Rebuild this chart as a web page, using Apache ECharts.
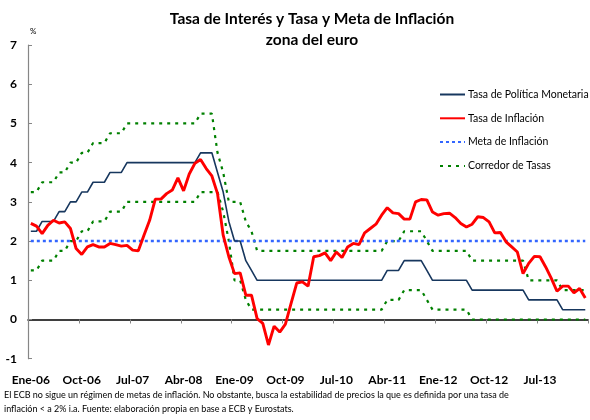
<!DOCTYPE html>
<html>
<head>
<meta charset="utf-8">
<script src="https://cdn.jsdelivr.net/npm/echarts@6/dist/echarts.min.js"></script>
<style>
  html, body { margin: 0; padding: 0; background: #fff; }
  #grafico { width: 590px; height: 420px; }
</style>
</head>
<body>
<div id="grafico"></div>
<script>
var grafico = echarts.init(document.getElementById('grafico'));

// meses Ene-06 .. Mar-14
var meses = ['Ene', 'Feb', 'Mar', 'Abr', 'May', 'Jun', 'Jul', 'Ago', 'Sep', 'Oct', 'Nov', 'Dic'];
var anios = ['06', '07', '08', '09', '10', '11', '12', '13', '14'];
var totalMeses = 99;
var categorias = [];
for (var i = 0; i < totalMeses; i++) {
  categorias.push(meses[i % 12] + '-' + anios[Math.floor(i / 12)]);
}

var ticksY = [-1, 0, 1, 2, 3, 4, 5, 6, 7];

var tasaPolitica = [
  2.25, 2.25, 2.50, 2.50, 2.50, 2.75, 2.75, 3.00, 3.00, 3.25, 3.25, 3.50,
  3.50, 3.50, 3.75, 3.75, 3.75, 4.00, 4.00, 4.00, 4.00, 4.00, 4.00, 4.00,
  4.00, 4.00, 4.00, 4.00, 4.00, 4.00, 4.25, 4.25, 4.25, 3.75, 3.25, 2.50,
  2.00, 2.00, 1.50, 1.25, 1.00, 1.00, 1.00, 1.00, 1.00, 1.00, 1.00, 1.00,
  1.00, 1.00, 1.00, 1.00, 1.00, 1.00, 1.00, 1.00, 1.00, 1.00, 1.00, 1.00,
  1.00, 1.00, 1.00, 1.25, 1.25, 1.25, 1.50, 1.50, 1.50, 1.50, 1.25, 1.00,
  1.00, 1.00, 1.00, 1.00, 1.00, 1.00, 0.75, 0.75, 0.75, 0.75, 0.75, 0.75,
  0.75, 0.75, 0.75, 0.75, 0.50, 0.50, 0.50, 0.50, 0.50, 0.50, 0.25, 0.25,
  0.25, 0.25, 0.25
];

var tasaInflacion = [
  2.45, 2.38, 2.19, 2.40, 2.53, 2.46, 2.49, 2.32, 1.81, 1.66, 1.85, 1.91,
  1.85, 1.85, 1.94, 1.91, 1.87, 1.89, 1.77, 1.75, 2.15, 2.53, 3.07, 3.07,
  3.21, 3.30, 3.61, 3.28, 3.71, 3.98, 4.08, 3.85, 3.66, 3.21, 2.15, 1.60,
  1.17, 1.19, 0.62, 0.62, 0.02, -0.10, -0.65, -0.17, -0.32, -0.12, 0.41, 0.93,
  0.96, 0.85, 1.60, 1.63, 1.70, 1.50, 1.72, 1.58, 1.85, 1.94, 1.91, 2.21,
  2.32, 2.43, 2.66, 2.85, 2.72, 2.70, 2.56, 2.56, 3.00, 3.06, 3.05, 2.74,
  2.66, 2.70, 2.71, 2.60, 2.45, 2.36, 2.43, 2.62, 2.60, 2.49, 2.21, 2.22,
  1.98, 1.85, 1.72, 1.17, 1.43, 1.61, 1.60, 1.34, 1.05, 0.72, 0.85, 0.85,
  0.68, 0.79, 0.55
];

var metaInflacion = [
  2, 2, 2, 2, 2, 2, 2, 2, 2, 2, 2, 2,
  2, 2, 2, 2, 2, 2, 2, 2, 2, 2, 2, 2,
  2, 2, 2, 2, 2, 2, 2, 2, 2, 2, 2, 2,
  2, 2, 2, 2, 2, 2, 2, 2, 2, 2, 2, 2,
  2, 2, 2, 2, 2, 2, 2, 2, 2, 2, 2, 2,
  2, 2, 2, 2, 2, 2, 2, 2, 2, 2, 2, 2,
  2, 2, 2, 2, 2, 2, 2, 2, 2, 2, 2, 2,
  2, 2, 2, 2, 2, 2, 2, 2, 2, 2, 2, 2,
  2, 2, 2
];

// techo del corredor (facilidad marginal de credito)
var corredorSup = [
  3.25, 3.25, 3.50, 3.50, 3.50, 3.75, 3.75, 4.00, 4.00, 4.25, 4.25, 4.50,
  4.50, 4.50, 4.75, 4.75, 4.75, 5.00, 5.00, 5.00, 5.00, 5.00, 5.00, 5.00,
  5.00, 5.00, 5.00, 5.00, 5.00, 5.00, 5.25, 5.25, 5.25, 4.25, 3.75, 3.00,
  3.00, 3.00, 2.50, 2.25, 1.75, 1.75, 1.75, 1.75, 1.75, 1.75, 1.75, 1.75,
  1.75, 1.75, 1.75, 1.75, 1.75, 1.75, 1.75, 1.75, 1.75, 1.75, 1.75, 1.75,
  1.75, 1.75, 1.75, 2.00, 2.00, 2.00, 2.25, 2.25, 2.25, 2.25, 2.00, 1.75,
  1.75, 1.75, 1.75, 1.75, 1.75, 1.75, 1.50, 1.50, 1.50, 1.50, 1.50, 1.50,
  1.50, 1.50, 1.50, 1.50, 1.00, 1.00, 1.00, 1.00, 1.00, 1.00, 0.75, 0.75,
  0.75, 0.75, 0.75
];

// piso del corredor (facilidad de deposito)
var corredorInf = [
  1.25, 1.25, 1.50, 1.50, 1.50, 1.75, 1.75, 2.00, 2.00, 2.25, 2.25, 2.50,
  2.50, 2.50, 2.75, 2.75, 2.75, 3.00, 3.00, 3.00, 3.00, 3.00, 3.00, 3.00,
  3.00, 3.00, 3.00, 3.00, 3.00, 3.00, 3.25, 3.25, 3.25, 3.25, 2.75, 2.00,
  1.00, 1.00, 0.50, 0.25, 0.25, 0.25, 0.25, 0.25, 0.25, 0.25, 0.25, 0.25,
  0.25, 0.25, 0.25, 0.25, 0.25, 0.25, 0.25, 0.25, 0.25, 0.25, 0.25, 0.25,
  0.25, 0.25, 0.25, 0.50, 0.50, 0.50, 0.75, 0.75, 0.75, 0.75, 0.50, 0.25,
  0.25, 0.25, 0.25, 0.25, 0.25, 0.25, 0.00, 0.00, 0.00, 0.00, 0.00, 0.00,
  0.00, 0.00, 0.00, 0.00, 0.00, 0.00, 0.00, 0.00, 0.00, 0.00, 0.00, 0.00,
  0.00, 0.00, 0.00
];

var fuente = 'Lato';

var opcion = {
  animation: false,
  textStyle: { fontFamily: fuente },
  title: {
    text: 'Tasa de Interés y Tasa y Meta de Inflación',
    subtext: 'zona del euro',
    left: 307,
    textAlign: 'center',
    top: 6,
    itemGap: 5,
    textStyle: { fontSize: 15.5, fontWeight: 'bold', color: '#000', fontFamily: fuente },
    subtextStyle: { fontSize: 15.5, fontWeight: 'bold', color: '#000', fontFamily: fuente }
  },
  legend: {
    orient: 'vertical',
    left: 434,
    top: 84,
    itemWidth: 25,
    itemHeight: 12,
    itemGap: 12.8,
    itemStyle: { opacity: 0 },
    textStyle: { fontSize: 10.5, color: '#000', fontFamily: fuente, padding: [0, 0, 0, -2] },
    data: ['Tasa de Política Monetaria', 'Tasa de Inflación', 'Meta de Inflación', 'Corredor de Tasas']
  },
  grid: {
    left: 28,
    right: 1.9,
    top: 45,
    bottom: 61.3
  },
  xAxis: [
    {
      type: 'category',
      data: categorias,
      boundaryGap: true,
      position: 'bottom',
      axisLine: { show: false, onZero: false },
      axisTick: { show: false },
      axisLabel: {
        interval: 8,
        margin: 15,
        fontSize: 12,
        fontWeight: 'bold',
        color: '#000',
        fontFamily: fuente
      },
      splitLine: { show: false }
    },
    {
      type: 'category',
      data: categorias,
      boundaryGap: true,
      position: 'bottom',
      axisLine: { show: true, onZero: true, lineStyle: { color: '#000', width: 1.5 } },
      axisTick: { show: true, interval: 8, length: 4, lineStyle: { color: '#868686' } },
      axisLabel: { show: false },
      splitLine: { show: false }
    }
  ],
  yAxis: {
    type: 'value',
    min: ticksY[0],
    max: ticksY[ticksY.length - 1],
    interval: 1,
    axisLine: { show: true, lineStyle: { color: '#868686', width: 1.2 } },
    axisTick: { show: true, inside: true, length: 4, lineStyle: { color: '#868686' } },
    axisLabel: { margin: 11, fontSize: 12, fontWeight: 'bold', color: '#000', fontFamily: fuente },
    splitLine: { show: false }
  },
  graphic: [
    {
      type: 'text', left: 30, top: 27,
      style: { text: '%', fontSize: 8, fill: '#000', fontFamily: fuente }
    },
    {
      type: 'text', left: 4, top: 391,
      style: {
        text: 'El ECB no sigue un régimen de metas de inflación. No obstante, busca la estabilidad de precios la que es definida por una tasa de',
        fontSize: 9, fill: '#000', fontFamily: fuente
      }
    },
    {
      type: 'text', left: 4, top: 405,
      style: {
        text: 'inflación < a 2% i.a. Fuente: elaboración propia en base a ECB y Eurostats.',
        fontSize: 9, fill: '#000', fontFamily: fuente
      }
    }
  ],
  series: [
    {
      name: 'Corredor de Tasas',
      type: 'line',
      data: corredorSup,
      symbol: 'none',
      itemStyle: { color: '#008000' },
      lineStyle: { color: '#008000', width: 2.2, type: [3, 5] }
    },
    {
      name: 'Corredor de Tasas',
      type: 'line',
      data: corredorInf,
      symbol: 'none',
      itemStyle: { color: '#008000' },
      lineStyle: { color: '#008000', width: 2.2, type: [3, 5] }
    },
    {
      name: 'Meta de Inflación',
      type: 'line',
      data: metaInflacion,
      symbol: 'none',
      itemStyle: { color: '#3366ff' },
      lineStyle: { color: '#3366ff', width: 2.4, type: [3, 3] }
    },
    {
      name: 'Tasa de Política Monetaria',
      type: 'line',
      data: tasaPolitica,
      symbol: 'none',
      itemStyle: { color: '#17375e' },
      lineStyle: { color: '#17375e', width: 1.6 }
    },
    {
      name: 'Tasa de Inflación',
      type: 'line',
      data: tasaInflacion,
      symbol: 'none',
      itemStyle: { color: '#ff0000' },
      lineStyle: { color: '#ff0000', width: 2.9 }
    }
  ]
};

grafico.setOption(opcion);
</script>
</body>
</html>
